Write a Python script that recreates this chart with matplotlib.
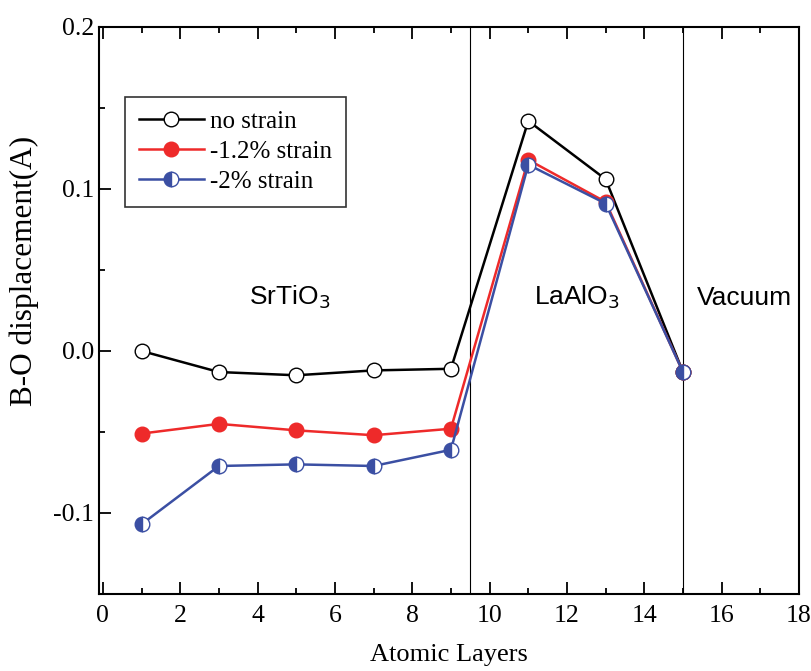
import numpy as np
import matplotlib.pyplot as plt
from matplotlib.ticker import MultipleLocator

layers = [1, 3, 5, 7, 9, 11, 13, 15]
no_strain = [0.000, -0.013, -0.015, -0.012, -0.011, 0.142, 0.106, -0.013]
strain_12 = [-0.051, -0.045, -0.049, -0.052, -0.048, 0.118, 0.092, -0.013]
strain_2 = [-0.107, -0.071, -0.070, -0.071, -0.061, 0.115, 0.091, -0.013]
boundaries = [9.5, 15]

plt.rcParams["font.family"] = "Liberation Serif"

fig = plt.figure(figsize=(8.12, 6.71), dpi=100)
ax = fig.add_axes([0.1219, 0.1148, 0.8621, 0.845])

for b in boundaries:
    ax.axvline(b, color="black", lw=0.8)

ax.plot(layers, no_strain, color="black", lw=1.8, marker="o", ms=10.5,
        mfc="white", mec="black", mew=1.0, label="no strain")
ax.plot(layers, strain_12, color="#ee2a2a", lw=1.8, marker="o", ms=10.5,
        mfc="#ee2a2a", mec="#ee2a2a", label="-1.2% strain")
ax.plot(layers, strain_2, color="#3b4fa3", lw=1.8, marker="o", ms=10.5,
        fillstyle="left", mfc="#3b4fa3", mfcalt="white", mec="#3b4fa3",
        mew=1.0, label="-2% strain")

ax.set_xlim(-0.1, 18)
ax.set_ylim(-0.15, 0.2)
ax.xaxis.set_major_locator(MultipleLocator(2))
ax.xaxis.set_minor_locator(MultipleLocator(1))
ax.yaxis.set_major_locator(MultipleLocator(0.1))
ax.yaxis.set_minor_locator(MultipleLocator(0.05))
ax.yaxis.set_major_formatter(plt.FuncFormatter(lambda v, p: f"{v:.1f}"))
ax.tick_params(which="both", direction="in", top=True, right=False,
               labelsize=18.5, width=1.3)
ax.tick_params(which="major", length=8.5)
ax.tick_params(which="minor", length=4.5)
ax.tick_params(axis="x", pad=8)
for s in ax.spines.values():
    s.set_linewidth(1.5)

ax.set_xlabel("Atomic Layers", fontsize=19)
ax.xaxis.set_label_coords(0.5, -0.088)
ax.set_ylabel("B-O displacement(A)", fontsize=22.5)
ax.yaxis.set_label_coords(-0.085, 0.57)

ax.text(4.84, 0.033, r"SrTiO$_3$", fontsize=19, family="Liberation Sans",
        ha="center", va="center")
ax.text(12.26, 0.033, r"LaAlO$_3$", fontsize=19, family="Liberation Sans",
        ha="center", va="center")
ax.text(16.6, 0.033, "Vacuum", fontsize=19, family="Liberation Sans",
        ha="center", va="center")

leg = ax.legend(loc="upper left", bbox_to_anchor=(0.037, 0.877), fontsize=18,
                frameon=True, fancybox=False, edgecolor="black",
                handlelength=2.6, borderpad=0.55, labelspacing=0.3,
                handletextpad=0.25, borderaxespad=0)
leg.get_frame().set_linewidth(1.2)

fig.savefig("out.png", dpi=100)
